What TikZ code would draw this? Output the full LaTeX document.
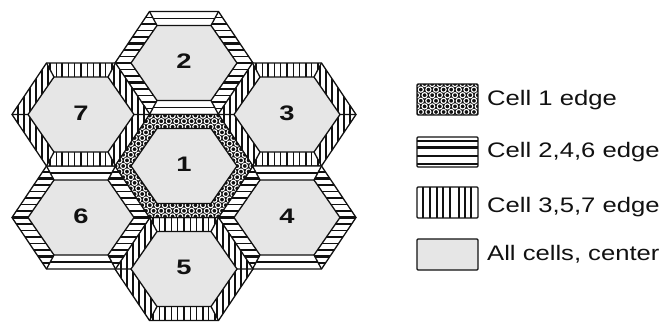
\documentclass[tikz,border=0pt]{standalone}
\usepackage{fontspec}
\setmainfont{Liberation Sans}
\definecolor{cellgray}{HTML}{E6E6E6}
\definecolor{ink}{HTML}{111111}
\tikzset{
  outline/.style={draw=ink, line width=1.3pt, line join=miter},
  num/.style={font=\fontsize{21}{21}\selectfont\bfseries, text=ink, inner sep=0pt},
  legtext/.style={font=\fontsize{21}{22}\selectfont, text=ink, inner sep=0pt},
  legbox/.style={draw=ink, line width=1.3pt, rounded corners=1pt},
}
\newcommand{\hexO}{(69,0) -- (34.5,-51.5) -- (-34.5,-51.5) -- (-69,0) -- (-34.5,51.5) -- (34.5,51.5) -- cycle}
\newcommand{\hexI}{(53,0) -- (27,-37.5) -- (-27,-37.5) -- (-53,0) -- (-27,37.5) -- (27,37.5) -- cycle}
\newcommand{\cellframe}[1]{%
  \draw[outline] \hexO;
  \draw[outline] (53,0) -- (69,0) (27,-37.5) -- (34.5,-51.5) (-27,-37.5) -- (-34.5,-51.5)
     (-53,0) -- (-69,0) (-27,37.5) -- (-34.5,51.5) (27,37.5) -- (34.5,51.5);
  \filldraw[fill=cellgray, outline] \hexI;
  \node[num] (n#1) at (0,-1.5) {\scalebox{1.3}[1]{#1}};
}
\newcommand{\sidesclip}{%
  \clip (-34.5,-51.5) -- (-69,0) -- (-34.5,51.5) -- (-27,37.5) -- (-53,0) -- (-27,-37.5) -- cycle
        (34.5,-51.5) -- (69,0) -- (34.5,51.5) -- (27,37.5) -- (53,0) -- (27,-37.5) -- cycle;}
% horizontal-stripe cell
\newcommand{\hcell}[3]{%
\begin{scope}[shift={(#1,#2)}]
  \fill[white] \hexO;
  \draw[ink, line width=1.9pt] (-31,-44.5) -- (31,-44.5) (-31,44.5) -- (31,44.5);
  \begin{scope}
    \sidesclip
    \foreach \i in {-7,...,7}{%
      \pgfmathtruncatemacro\m{mod(\i+30,3)}%
      \pgfmathsetmacro\w{ifthenelse(\m==0,2.1,1.2)}%
      \draw[ink, line width=\w pt] (-70,\i*6.5) -- (70,\i*6.5);
    }
  \end{scope}
  \cellframe{#3}
\end{scope}}
% vertical-stripe cell
\newcommand{\vcell}[3]{%
\begin{scope}[shift={(#1,#2)}]
  \fill[white] \hexO;
  \begin{scope}
    \clip (34.5,-51.5) -- (-34.5,-51.5) -- (-27,-37.5) -- (27,-37.5) -- cycle
          (34.5,51.5) -- (-34.5,51.5) -- (-27,37.5) -- (27,37.5) -- cycle;
    \foreach \i in {-5,...,5}{%
      \pgfmathtruncatemacro\m{mod(\i+30,3)}%
      \pgfmathsetmacro\w{ifthenelse(\m==0,2.1,1.2)}%
      \draw[ink, line width=\w pt] (\i*6.2,-55) -- (\i*6.2,55);
    }
  \end{scope}
  \begin{scope}
    \sidesclip
    \foreach \i in {1,...,7}{%
      \pgfmathtruncatemacro\m{mod(\i,3)}%
      \pgfmathsetmacro\w{ifthenelse(\m==0,2.1,1.2)}%
      \draw[ink, line width=\w pt] (27+\i*6,-55) -- (27+\i*6,55)
                                   (-27-\i*6,-55) -- (-27-\i*6,55);
    }
  \end{scope}
  \cellframe{#3}
\end{scope}}
\newcommand{\dotgrid}[4]{% column/row ranges
  \foreach \r in {#2,...,#4}{%
    \pgfmathtruncatemacro\odd{mod(\r+40,2)}%
    \foreach \c in {#1,...,#3}{%
      \draw[white, line width=1.1pt] (\c*7.6+\odd*3.8,\r*5.6) circle (2.6pt);
    }
  }
}
\begin{document}
\begin{tikzpicture}[x=1pt, y=-1pt]
\useasboundingbox (0,0) rectangle (662,325);
\fill[white] (0,0) rectangle (662,325);
\hcell{184}{63}{2}
\vcell{287}{114.5}{3}
\hcell{287}{217.5}{4}
\vcell{184}{269}{5}
\hcell{81}{217.5}{6}
\vcell{81}{114.5}{7}
% cell 1
\begin{scope}[shift={(184,166)}]
  \fill[ink] \hexO;
  \begin{scope}
    \clip \hexO;
    \dotgrid{-10}{-10}{10}{10}
  \end{scope}
  \draw[outline] \hexO;
  \filldraw[fill=cellgray, outline] \hexI;
  \node[num] (n1) at (0,-1.5) {\scalebox{1.3}[1]{1}};
\end{scope}
% legend
\begin{scope}
  \fill[ink] (417,84) rectangle (478,115);
  \clip (417,84) rectangle (478,115);
  \begin{scope}[shift={(417,84)}]
    \dotgrid{-1}{-1}{9}{6}
  \end{scope}
\end{scope}
\draw[legbox] (417,84) rectangle (478,115);
\fill[white] (417,137) rectangle (478,167);
\draw[ink, line width=1.1pt] (417,141) -- (478,141) (417,156) -- (478,156);
\draw[ink, line width=2.2pt] (417,147.5) -- (478,147.5) (417,164) -- (478,164);
\draw[legbox] (417,137) rectangle (478,167);
\fill[white] (417,187) rectangle (478,218);
\foreach \x in {423,437,443,450,465,471}{\draw[ink, line width=1.1pt] (\x,187) -- (\x,218);}
\foreach \x in {430,459}{\draw[ink, line width=2.4pt] (\x,187) -- (\x,218);}
\draw[legbox] (417,187) rectangle (478,218);
\filldraw[fill=cellgray, legbox] (417,239) rectangle (478,270);
\node[legtext, anchor=base west] (t1) at (487,105.5) {\scalebox{1.22}[1]{Cell 1 edge}};
\node[legtext, anchor=base west] (t2) at (487,157.5) {\scalebox{1.22}[1]{Cell 2,4,6 edge}};
\node[legtext, anchor=base west] (t3) at (487,212.5) {\scalebox{1.22}[1]{Cell 3,5,7 edge}};
\node[legtext, anchor=base west] (t4) at (487,260.5) {\scalebox{1.22}[1]{All cells, center}};
\end{tikzpicture}
\end{document}
